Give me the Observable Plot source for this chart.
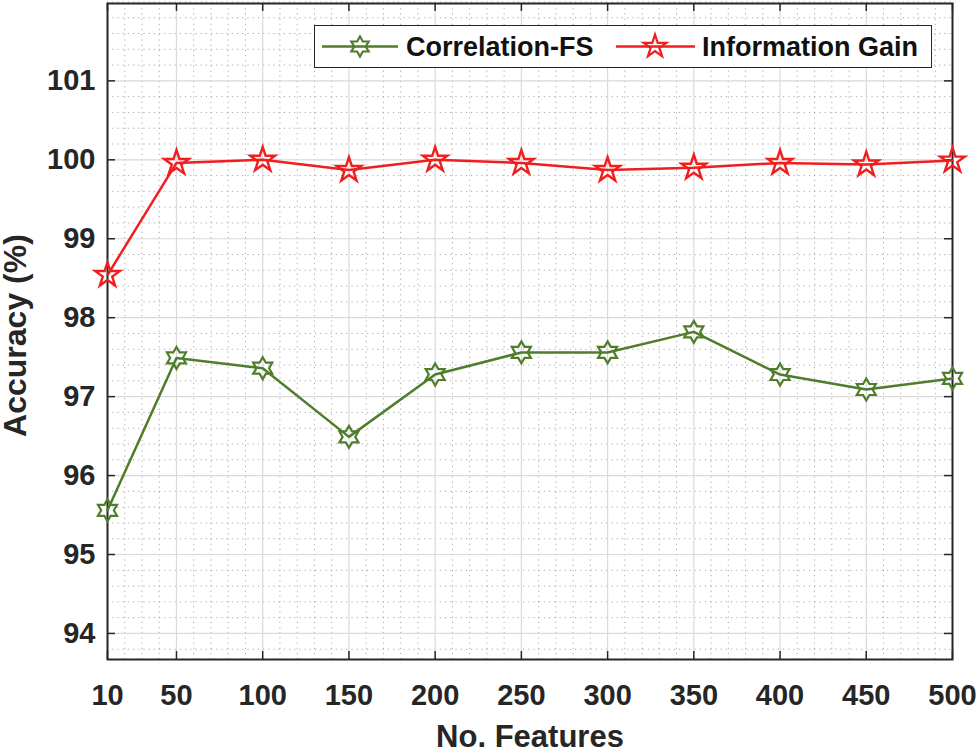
<!DOCTYPE html>
<html><head><meta charset="utf-8">
<script src="https://cdn.jsdelivr.net/npm/d3@7"></script>
<script src="https://cdn.jsdelivr.net/npm/@observablehq/plot@0.6"></script>
<style>
html,body{margin:0;padding:0;background:#fff;}
#wrap{position:relative;width:980px;height:754px;font-family:"Liberation Sans",Arial,sans-serif;}
#legend{position:absolute;left:314px;top:25px;width:616px;height:41px;border:1.5px solid #262626;background:#fff;}
#legend svg{display:block;}
</style></head><body><div id="wrap"><div id="legend"></div></div>
<script>
const features = [10, 50, 100, 150, 200, 250, 300, 350, 400, 450, 500];
const correlationFS = [95.56, 97.49, 97.36, 96.49, 97.28, 97.56, 97.56, 97.82, 97.28, 97.09, 97.23];
const informationGain = [98.54, 99.96, 100.0, 99.87, 100.0, 99.96, 99.87, 99.90, 99.96, 99.94, 99.99];
const seriesNames = ["Correlation-FS", "Information Gain"];
const xTickValues = [10, 50, 100, 150, 200, 250, 300, 350, 400, 450, 500];
const yTickValues = [94, 95, 96, 97, 98, 99, 100, 101];
const xMinorValues = d3.range(20, 500, 10).filter(v => !xTickValues.includes(v));
const yMinorValues = d3.range(93.8, 102, 0.2).map(v => +v.toFixed(1)).filter(v => !yTickValues.includes(v));
const xDomain = [10, 500];
const yDomain = [93.67, 101.98];

const GREEN = "#4f7d2b", RED = "#f01e1e", INK = "#262626";

function starSymbol(points, innerRatio) {
  return {
    draw(ctx, size) {
      const R = Math.sqrt(size / Math.PI), r = R * innerRatio;
      for (let i = 0; i < 2 * points; i++) {
        const a = -Math.PI / 2 + i * Math.PI / points;
        const rr = i % 2 === 0 ? R : r;
        const px = rr * Math.cos(a), py = rr * Math.sin(a);
        if (i === 0) ctx.moveTo(px, py); else ctx.lineTo(px, py);
      }
      ctx.closePath();
    }
  };
}
const hexagram = starSymbol(6, 0.577);
const pentagram = starSymbol(5, 0.382);

const corrData = features.map((f, i) => ({x: f, y: correlationFS[i]}));
const igData = features.map((f, i) => ({x: f, y: informationGain[i]}));

const W = 980, H = 754, mL = 107, mR = 28, mT = 3, mB = 95;
const fw = W - mL - mR, fh = H - mT - mB;
const TK = 8;

const chart = Plot.plot({
  width: W, height: H,
  marginLeft: mL, marginRight: mR, marginTop: mT, marginBottom: mB,
  style: {fontFamily: '"Liberation Sans", Arial, sans-serif', background: "#fff", overflow: "visible"},
  x: {domain: xDomain, type: "linear"},
  y: {domain: yDomain, type: "linear"},
  marks: [
    Plot.ruleX(xMinorValues, {x: d => d, stroke: "#a8a8a8", strokeWidth: 1, strokeDasharray: "1.2 4"}),
    Plot.ruleY(yMinorValues, {y: d => d, stroke: "#a8a8a8", strokeWidth: 1, strokeDasharray: "1.2 4"}),
    Plot.ruleX(xTickValues, {x: d => d, stroke: "#dadada", strokeWidth: 1.2}),
    Plot.ruleY(yTickValues, {y: d => d, stroke: "#dadada", strokeWidth: 1.2}),
    Plot.tickX(xTickValues, {x: d => d, insetTop: fh - TK, stroke: INK, strokeWidth: 1.5}),
    Plot.tickX(xTickValues, {x: d => d, insetBottom: fh - TK, stroke: INK, strokeWidth: 1.5}),
    Plot.tickY(yTickValues, {y: d => d, insetRight: fw - TK, stroke: INK, strokeWidth: 1.5}),
    Plot.tickY(yTickValues, {y: d => d, insetLeft: fw - TK, stroke: INK, strokeWidth: 1.5}),
    Plot.frame({stroke: INK, strokeWidth: 2}),
    Plot.axisX({ticks: xTickValues, tickSize: 0, tickPadding: 25, tickFormat: d => String(d), fontSize: 29, fontWeight: "bold", fill: INK, label: null}),
    Plot.axisY({ticks: yTickValues, tickSize: 0, tickPadding: 12, tickFormat: d => String(d), fontSize: 29, fontWeight: "bold", fill: INK, label: null}),
    Plot.line(corrData, {x: "x", y: "y", stroke: GREEN, strokeWidth: 2.5}),
    Plot.line(igData, {x: "x", y: "y", stroke: RED, strokeWidth: 2.5}),
    Plot.dot(corrData, {x: "x", y: "y", symbol: hexagram, r: 11, stroke: GREEN, strokeWidth: 2.2, fill: "none"}),
    Plot.dot(igData, {x: "x", y: "y", symbol: pentagram, r: 13, stroke: RED, strokeWidth: 2.4, fill: "none"}),
    Plot.text(["No. Features"], {frameAnchor: "bottom", lineAnchor: "middle", textAnchor: "middle", dy: 78, fontSize: 31, fontWeight: "bold", fill: INK, text: d => d}),
    Plot.text(["Accuracy (%)"], {frameAnchor: "left", lineAnchor: "middle", textAnchor: "middle", dx: -92, dy: 4, rotate: -90, fontSize: 32, fontWeight: "bold", fill: INK, text: d => d})
  ]
});
document.getElementById("wrap").insertBefore(chart, document.getElementById("legend"));
chart.style.position = "absolute"; chart.style.left = "0"; chart.style.top = "0";

// Legend
const lg = d3.select("#legend").append("svg").attr("width", 616).attr("height", 41);
function symPath(sym, r) { const p = d3.path(); sym.draw(p, r * r * Math.PI); return p.toString(); }
const items = [
  {name: seriesNames[0], color: GREEN, sym: hexagram, r: 10, x0: 7, x1: 83, sx: 45, tx: 91},
  {name: seriesNames[1], color: RED, sym: pentagram, r: 12, x0: 301, x1: 380, sx: 340, tx: 387}
];
for (const it of items) {
  lg.append("line").attr("x1", it.x0).attr("x2", it.x1).attr("y1", 20.5).attr("y2", 20.5)
    .attr("stroke", it.color).attr("stroke-width", 2.5);
  lg.append("path").attr("d", symPath(it.sym, it.r)).attr("transform", `translate(${it.sx},20.5)`)
    .attr("fill", "none").attr("stroke", it.color).attr("stroke-width", 2.2);
  lg.append("text").attr("x", it.tx).attr("y", 20.5).attr("dy", "0.36em")
    .attr("font-family", '"Liberation Sans", Arial, sans-serif').attr("font-weight", "bold")
    .attr("font-size", 27).attr("fill", "#111").text(it.name);
}
</script></body></html>
